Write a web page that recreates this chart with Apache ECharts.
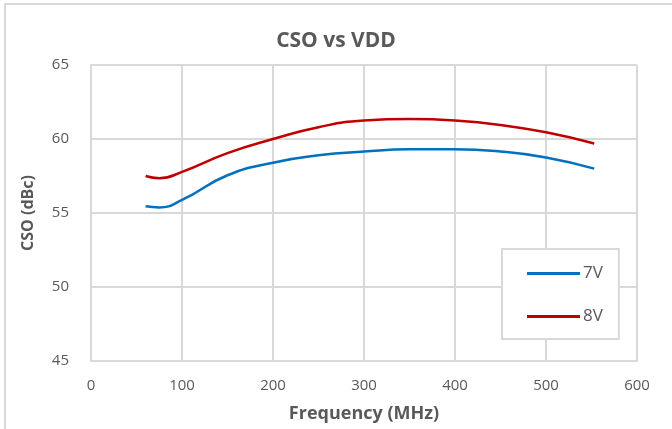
<!DOCTYPE html>
<html>
<head lang="en">
    <meta charset="UTF-8">
    <title>CSO vs VDD</title>
    <style>
        html,body{margin:0;padding:0;background:#fff;}
        #chart{width:672px;height:429px;}
    </style>
</head>
<body>
<div id="chart"></div>
<script src="https://cdn.jsdelivr.net/npm/echarts@6/dist/echarts.min.js"></script>
<script>
    // 频率 (MHz)
    var freq = [60, 75, 100, 150, 200, 250, 300, 350, 400, 450, 500, 553];
    var cso7V = [55.45, 55.38, 55.88, 57.55, 58.4, 58.9, 59.15, 59.3, 59.3, 59.15, 58.75, 58.0];
    var cso8V = [57.5, 57.35, 57.78, 59.05, 60.0, 60.8, 61.25, 61.35, 61.25, 60.95, 60.45, 59.7];
    var seriesNames = ['7V', '8V'];
    var xTicks = [0, 100, 200, 300, 400, 500, 600];
    var yTicks = [45, 50, 55, 60, 65];

    function pairs(xs, ys){
        return xs.map(function(v, i){ return [v, ys[i]]; });
    }

    var font = '"Open Sans", "Noto Sans", sans-serif';
    var grey = '#595959';
    var gridCol = '#d9d9d9';

    var myChart = echarts.init(document.getElementById('chart'));
    var option = {
        animation: false,
        backgroundColor: '#fff',
        graphic: [{
            type: 'rect',
            shape: {x: 5, y: 4, width: 720, height: 480},
            style: {fill: 'none', stroke: '#d9d9d9', lineWidth: 2},
            silent: true
        }],
        title: {
            text: 'CSO vs VDD',
            left: 'center',
            top: 26,
            textStyle: {fontFamily: font, fontSize: 21, fontWeight: 'bold', color: grey}
        },
        legend: {
            orient: 'vertical',
            left: 502,
            top: 249,
            data: seriesNames,
            icon: 'rect',
            backgroundColor: '#fff',
            borderColor: gridCol,
            borderWidth: 2,
            padding: [16, 16, 14, 25],
            itemWidth: 53,
            itemHeight: 3,
            itemGap: 26,
            textStyle: {fontFamily: font, fontSize: 17, lineHeight: 14, color: grey, padding: [0, 0, 0, -2]}
        },
        grid: {
            left: 91,
            right: 35,
            top: 65,
            bottom: 68,
            containLabel: false
        },
        xAxis: {
            type: 'value',
            min: xTicks[0],
            max: xTicks[xTicks.length - 1],
            interval: 100,
            name: 'Frequency (MHz)',
            nameLocation: 'middle',
            nameGap: 44,
            nameTextStyle: {fontFamily: font, fontSize: 18, fontWeight: 'bold', color: grey},
            axisLine: {lineStyle: {color: gridCol, width: 2}},
            axisTick: {show: false},
            axisLabel: {fontFamily: font, fontSize: 15, color: grey, margin: 17},
            splitLine: {show: true, lineStyle: {color: gridCol, width: 2}}
        },
        yAxis: {
            type: 'value',
            min: yTicks[0],
            max: yTicks[yTicks.length - 1],
            interval: 5,
            name: 'CSO (dBc)',
            nameLocation: 'middle',
            nameGap: 55,
            nameTextStyle: {fontFamily: font, fontSize: 16, fontWeight: 'bold', color: grey},
            axisLine: {show: true, lineStyle: {color: gridCol, width: 2}},
            axisTick: {show: false},
            axisLabel: {fontFamily: font, fontSize: 15, color: grey, margin: 22},
            splitLine: {show: true, lineStyle: {color: gridCol, width: 2}}
        },
        series: [
            {
                name: seriesNames[0],
                type: 'line',
                smooth: 0.5,
                symbol: 'none',
                data: pairs(freq, cso7V),
                lineStyle: {color: '#0070c0', width: 2.5},
                itemStyle: {color: '#0070c0'}
            },
            {
                name: seriesNames[1],
                type: 'line',
                smooth: 0.5,
                symbol: 'none',
                data: pairs(freq, cso8V),
                lineStyle: {color: '#c00000', width: 2.5},
                itemStyle: {color: '#c00000'}
            }
        ]
    };
    myChart.setOption(option);
</script>
</body>
</html>
